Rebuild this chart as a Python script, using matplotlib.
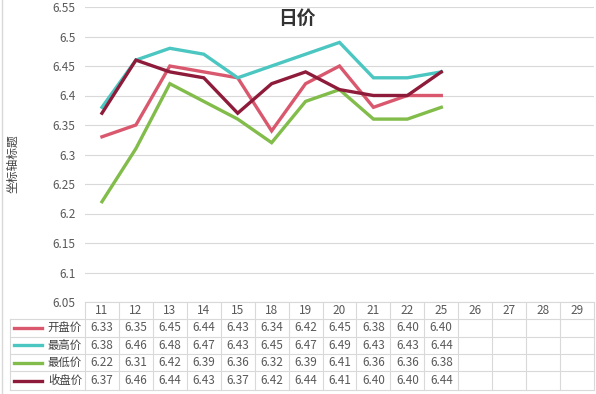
import matplotlib
matplotlib.use('Agg')
import matplotlib.pyplot as plt
import matplotlib.transforms as mtransforms
from matplotlib.lines import Line2D

plt.rcParams['font.family'] = ['Noto Sans CJK SC', 'DejaVu Sans']

# chart data
days = ['11', '12', '13', '14', '15', '18', '19', '20', '21', '22', '25', '26', '27', '28', '29']
series_names = ['开盘价', '最高价', '最低价', '收盘价']
open_px = [6.33, 6.35, 6.45, 6.44, 6.43, 6.34, 6.42, 6.45, 6.38, 6.40, 6.40]
high_px = [6.38, 6.46, 6.48, 6.47, 6.43, 6.45, 6.47, 6.49, 6.43, 6.43, 6.44]
low_px = [6.22, 6.31, 6.42, 6.39, 6.36, 6.32, 6.39, 6.41, 6.36, 6.36, 6.38]
close_px = [6.37, 6.46, 6.44, 6.43, 6.37, 6.42, 6.44, 6.41, 6.40, 6.40, 6.44]
y_ticks = [6.05, 6.1, 6.15, 6.2, 6.25, 6.3, 6.35, 6.4, 6.45, 6.5, 6.55]

colors = ['#D9586E', '#4BC6C1', '#82BC4A', '#8E1B3A']
all_series = [open_px, high_px, low_px, close_px]

W, H = 596, 394
fig = plt.figure(figsize=(W / 100, H / 100), dpi=100)
fig.patch.set_facecolor('white')

def fx(px):
    return px / W

def fy(px):
    return 1 - px / H

ax = fig.add_axes([fx(85), fy(302), fx(594) - fx(85), fy(7) - fy(302)])
ax.set_xlim(-0.5, len(days) - 0.5)
ax.set_ylim(6.05, 6.55)
ax.set_yticks(y_ticks)
ax.set_yticklabels([('%g' % v) for v in y_ticks], color='#595959', fontsize=8.5)
ax.set_xticks([])
ax.tick_params(axis='y', length=0, pad=7)
for s in ax.spines.values():
    s.set_visible(False)
ax.grid(axis='y', color='#D9D9D9', lw=0.8)
ax.set_axisbelow(True)

for vals, c in zip(all_series, colors):
    ax.plot(range(len(vals)), vals, color=c, lw=2.4, solid_joinstyle='miter', zorder=3)

fig.text(fx(297), fy(18), '日价', ha='center', va='center', fontsize=13.5,
         fontweight='bold', color='#333333')
fig.text(fx(13), fy(164), '坐标轴标题', ha='center', va='center', rotation=90,
         fontsize=8.5, color='#404040')

# data table below the plot
trans = mtransforms.blended_transform_factory(ax.transData, fig.transFigure)
grid_c = '#D9D9D9'
row_lines = [319, 336.7, 354, 371, 390]

fig.add_artist(Line2D([fx(85), fx(594)], [fy(302), fy(302)], color=grid_c, lw=0.8))
for r in row_lines:
    fig.add_artist(Line2D([fx(10), fx(594)], [fy(r), fy(r)], color=grid_c, lw=0.8))
fig.add_artist(Line2D([fx(10), fx(10)], [fy(319), fy(390)], color=grid_c, lw=0.8))
for i in range(len(days) + 1):
    fig.add_artist(Line2D([i - 0.5, i - 0.5], [fy(302), fy(390)], transform=trans,
                          color=grid_c, lw=0.8))

for i, d in enumerate(days):
    fig.text(i, fy(310.5), d, transform=trans, ha='center', va='center',
             fontsize=8.5, color='#595959')

for k, (name, vals, c) in enumerate(zip(series_names, all_series, colors)):
    ymid = (row_lines[k] + row_lines[k + 1]) / 2
    fig.add_artist(Line2D([fx(14), fx(42)], [fy(ymid), fy(ymid)], color=c, lw=2.4))
    fig.text(fx(82), fy(ymid), name, ha='right', va='center', fontsize=8.2, color='#404040')
    for i, v in enumerate(vals):
        fig.text(i, fy(ymid), '%.2f' % v, transform=trans, ha='center', va='center',
                 fontsize=8.5, color='#595959')

fig.add_artist(Line2D([fx(1.5), fx(1.5)], [0, 1], color='#D9D9D9', lw=1))

fig.savefig('out.png', dpi=100)
